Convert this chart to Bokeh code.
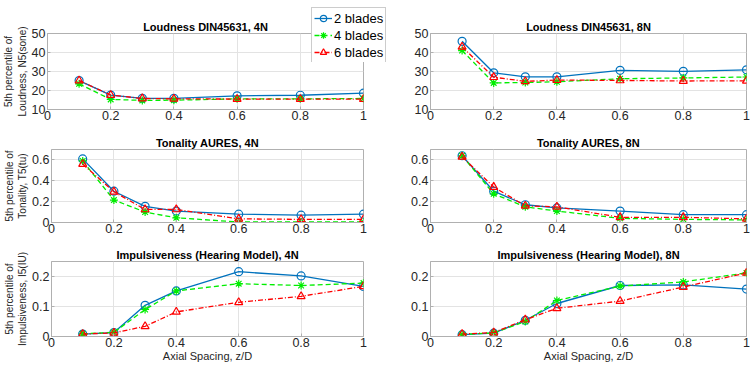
from bokeh.plotting import figure
from bokeh.layouts import column, row
from bokeh.models import Range1d, FixedTicker, CustomJSTickFormatter, Legend, LegendItem
from bokeh.embed import file_html
from bokeh.resources import INLINE

# ---------------- data ----------------
spacing = [0.1, 0.2, 0.3, 0.4, 0.6, 0.8, 1.0]
series_names = ["2 blades", "4 blades", "6 blades"]

loud4_2 = [25.2, 17.6, 15.9, 15.9, 17.2, 17.5, 18.6]
loud4_4 = [23.5, 15.3, 14.8, 14.9, 15.6, 15.6, 15.8]
loud4_6 = [25.2, 17.6, 15.8, 15.6, 15.5, 15.5, 15.5]

loud8_2 = [45.9, 29.3, 27.2, 27.2, 30.6, 30.1, 30.9]
loud8_4 = [41.0, 24.0, 24.2, 24.6, 26.2, 26.6, 27.1]
loud8_6 = [43.0, 27.0, 24.8, 25.5, 25.3, 25.0, 25.1]

ton4_2 = [0.61, 0.30, 0.155, 0.11, 0.08, 0.07, 0.08]
ton4_4 = [0.59, 0.215, 0.10, 0.045, 0.005, 0.005, 0.005]
ton4_6 = [0.56, 0.295, 0.125, 0.125, 0.035, 0.03, 0.03]

ton8_2 = [0.64, 0.30, 0.17, 0.14, 0.11, 0.075, 0.075]
ton8_4 = [0.64, 0.275, 0.15, 0.11, 0.04, 0.03, 0.025]
ton8_6 = [0.63, 0.34, 0.16, 0.15, 0.05, 0.05, 0.035]

imp4_2 = [0.008, 0.013, 0.104, 0.152, 0.216, 0.202, 0.167]
imp4_4 = [0.009, 0.014, 0.090, 0.152, 0.176, 0.170, 0.178]
imp4_6 = [0.008, 0.012, 0.034, 0.082, 0.114, 0.134, 0.167]

imp8_2 = [0.006, 0.011, 0.054, 0.110, 0.170, 0.172, 0.158]
imp8_4 = [0.007, 0.012, 0.050, 0.120, 0.168, 0.182, 0.212]
imp8_6 = [0.008, 0.013, 0.056, 0.094, 0.118, 0.165, 0.212]

x_ticks = [0, 0.2, 0.4, 0.6, 0.8, 1]
loud_ticks = [10, 20, 30, 40, 50]
ton_ticks = [0, 0.2, 0.4, 0.6]
imp_ticks = [0, 0.1, 0.2]

titles = [
    ["Loudness DIN45631, 4N", "Loudness DIN45631, 8N"],
    ["Tonality AURES, 4N", "Tonality AURES, 8N"],
    ["Impulsiveness (Hearing Model), 4N", "Impulsiveness (Hearing Model), 8N"],
]
y_labels = [
    "5th percentile of\nLoudness, N5(sone)",
    "5th percentile of\nTonality, T5(tu)",
    "5th percentile of\nImpulsiveness, I5(IU)",
]
x_label = "Axial Spacing, z/D"

# ---------------- style ----------------
FONT = "Liberation Sans"
TXT = "#262626"
AX = "#b0b0b0"
GRID = "#e3e3e3"
colors = ["#0072BD", "#00EE00", "#FF0000"]
markers = ["circle", "asterisk", "triangle"]
dashes = ["solid", "5 3", "5 2 1 2"]

row_specs = [
    # (left data, right data, yrange, yticks, top border, frame height, bottom border)
    ((loud4_2, loud4_4, loud4_6), (loud8_2, loud8_4, loud8_6), (10, 50), loud_ticks, 33, 76, 24),
    ((ton4_2, ton4_4, ton4_6), (ton8_2, ton8_4, ton8_6), (0, 0.7), ton_ticks, 14, 75, 23),
    ((imp4_2, imp4_4, imp4_6), (imp8_2, imp8_4, imp8_6), (0, 0.25), imp_ticks, 14, 77, 30),
]

fmt_code = "return tick.toString();"

rows = []
for r, (left_data, right_data, yr, yt, bt, fh, bb) in enumerate(row_specs):
    figs = []
    for c, data in enumerate([left_data, right_data]):
        if c == 0:
            bl, fw, br = 47, 316, 29
        else:
            bl, fw, br = 38, 316, 4
        p = figure(width=bl + fw + br, height=bt + fh + bb, output_backend="svg", toolbar_location=None,
                   x_range=Range1d(0, 1), y_range=Range1d(*yr),
                   min_border_left=bl, min_border_right=br, min_border_top=bt, min_border_bottom=bb)
        p.title.text = titles[r][c]
        p.title.text_font = FONT
        p.title.text_font_size = "11px"
        p.title.text_font_style = "bold"
        p.title.text_color = "#000000"
        p.title.align = "center"
        p.title.standoff = 2
        p.outline_line_color = AX
        p.outline_line_width = 1
        p.background_fill_color = "white"
        p.border_fill_color = "white"
        for ax in (p.xaxis[0], p.yaxis[0]):
            ax.axis_line_color = AX
            ax.major_tick_line_color = AX
            ax.major_tick_in = 3
            ax.major_tick_out = 0
            ax.minor_tick_line_color = None
            ax.major_label_text_font = FONT
            ax.major_label_text_font_size = "12.5px"
            ax.major_label_text_color = TXT
            ax.formatter = CustomJSTickFormatter(code=fmt_code)
            ax.axis_label_text_font = FONT
            ax.axis_label_text_font_style = "normal"
            ax.axis_label_text_color = TXT
        p.xaxis[0].ticker = FixedTicker(ticks=x_ticks)
        p.yaxis[0].ticker = FixedTicker(ticks=yt)
        p.xaxis[0].major_label_standoff = 1
        p.yaxis[0].major_label_standoff = 2
        if c == 0:
            p.yaxis[0].axis_label = y_labels[r]
            p.yaxis[0].axis_label_text_font_size = "10px"
            p.yaxis[0].axis_label_standoff = 1
        if r == 2:
            p.xaxis[0].axis_label = x_label
            p.xaxis[0].axis_label_text_font_size = "11px"
            p.xaxis[0].axis_label_standoff = 0
        p.xgrid.ticker = FixedTicker(ticks=x_ticks)
        p.ygrid.ticker = FixedTicker(ticks=yt)
        p.xgrid.grid_line_color = GRID
        p.ygrid.grid_line_color = GRID

        for k, ys in enumerate(data):
            p.line(spacing, ys, line_color=colors[k], line_width=1.3, line_dash=dashes[k])
            p.scatter(spacing, ys, marker=markers[k], size=8, fill_color=None,
                      line_color=colors[k], line_width=1.2)
        figs.append(p)
    rows.append(row(*figs))

# ---------------- legend (overlaid small figure) ----------------
# its renderers hold the first panel's series, kept outside the visible range
lf = figure(width=77, height=55, output_backend="svg", toolbar_location=None,
            x_range=Range1d(10, 11), y_range=Range1d(1000, 1001),
            min_border=0, min_border_left=0, min_border_right=0, min_border_top=0, min_border_bottom=0)
lf.axis.visible = False
lf.grid.visible = False
lf.outline_line_color = None
lf.background_fill_color = None
lf.border_fill_color = None
items = []
for k, ys in enumerate(row_specs[0][0]):
    ln = lf.line(spacing, ys, line_color=colors[k], line_width=1.3, line_dash=dashes[k])
    mk = lf.scatter(spacing, ys, marker=markers[k], size=8, fill_color=None,
                    line_color=colors[k], line_width=1.2)
    items.append(LegendItem(label=series_names[k], renderers=[ln, mk]))
legend = Legend(items=items, location="top_left", orientation="vertical")
legend.label_text_font = FONT
legend.label_text_font_size = "13px"
legend.label_text_color = "#000000"
legend.border_line_color = "#9a9a9a"
legend.border_line_width = 1
legend.background_fill_color = "white"
legend.background_fill_alpha = 1
legend.glyph_width = 18
legend.glyph_height = 16
legend.label_height = 16
legend.label_standoff = 2
legend.spacing = 1
legend.padding = 2
legend.margin = 0
lf.add_layout(legend, "center")
lf.styles = {"position": "absolute", "left": "311px", "top": "7px", "z-index": "10"}

layout = column(*rows, lf)

open("out.html", "w").write(file_html(layout, INLINE))
